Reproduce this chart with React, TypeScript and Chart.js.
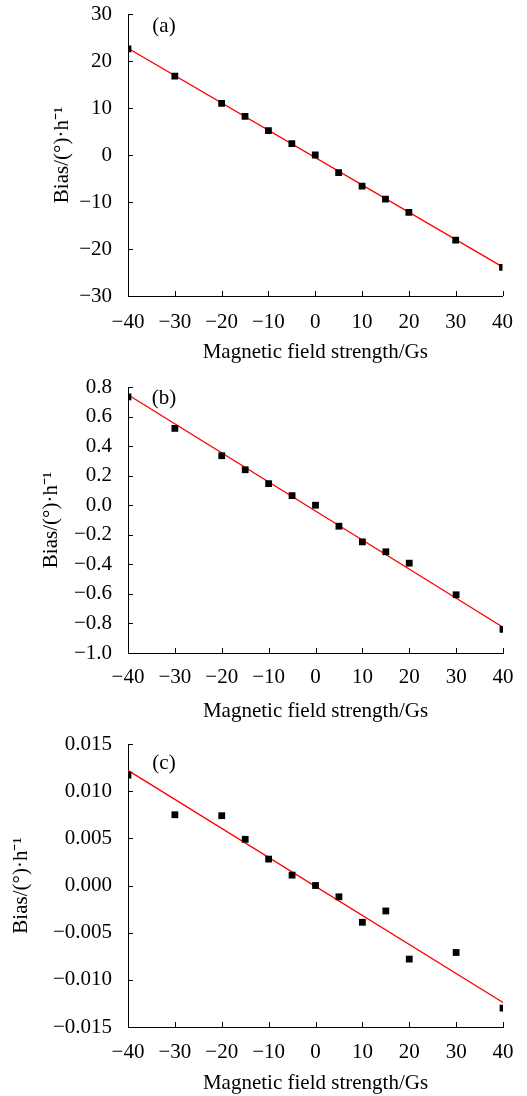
import React, { useEffect, useRef } from "react";
import { Chart, registerables } from "chart.js";

Chart.register(...registerables);

const fieldX = [-40, -30, -20, -15, -10, -5, 0, 5, 10, 15, 20, 30, 40];
const biasA = [22.6, 16.8, 11.0, 8.2, 5.2, 2.4, 0, -3.75, -6.6, -9.4, -12.2, -18.1, -23.9];
const biasB = [0.733, 0.52, 0.335, 0.24, 0.146, 0.065, 0, -0.142, -0.248, -0.315, -0.392, -0.606, -0.84];
const biasC = [0.0117, 0.0075, 0.0074, 0.0049, 0.0028, 0.0011, 0, -0.0012, -0.0039, -0.0027, -0.0078, -0.0071, -0.013];
const fitX = [-40, 40];
const fitA = [22.7, -23.8];
const fitB = [0.747, -0.826];
const fitC = [0.0122, -0.0124];
const xTicks = [-40, -30, -20, -10, 0, 10, 20, 30, 40];
const yTicksA = [-30, -20, -10, 0, 10, 20, 30];
const yTicksB = [-1.0, -0.8, -0.6, -0.4, -0.2, 0.0, 0.2, 0.4, 0.6, 0.8];
const yTicksC = [-0.015, -0.01, -0.005, 0, 0.005, 0.01, 0.015];
const panelLabels = ["(a)", "(b)", "(c)"];
const xTitle = "Magnetic field strength/Gs";
const yTitle = "Bias/(°)·h⁻¹";

const FONT = "'Liberation Serif', 'Times New Roman', serif";
const FS = 21;

const fmt = (v: number, d: number) => {
  const r = Math.abs(v) < 1e-12 ? 0 : v;
  return r.toFixed(d).replace("-", "\u2212");
};

const innerTicks = {
  id: "innerTicks",
  afterDraw(chart: any, _a: any, opts: any) {
    const { ctx, chartArea, scales } = chart;
    ctx.save();
    ctx.strokeStyle = "#000";
    ctx.lineWidth = 1;
    const len = 5;
    scales.x.ticks.forEach((t: any) => {
      const px = Math.round(scales.x.getPixelForValue(t.value)) + 0.5;
      ctx.beginPath();
      ctx.moveTo(px, chartArea.bottom);
      ctx.lineTo(px, chartArea.bottom - len);
      ctx.stroke();
    });
    scales.y.ticks.forEach((t: any) => {
      const py = Math.round(scales.y.getPixelForValue(t.value)) + 0.5;
      ctx.beginPath();
      ctx.moveTo(chartArea.left, py);
      ctx.lineTo(chartArea.left + len, py);
      ctx.stroke();
    });
    ctx.fillStyle = "#000";
    ctx.font = `${FS}px ${FONT}`;
    ctx.textAlign = "center";
    ctx.textBaseline = "middle";
    ctx.fillText(opts.label, chartArea.left + opts.dx, chartArea.top + opts.dy);
    ctx.restore();
  },
};

type Panel = {
  top: number;
  height: number;
  y: number[];
  fit: number[];
  ticks: number[];
  dec: number;
  plotTop: number;
  xHeight: number;
  tickPad: number;
  titlePadBottom: number;
  yTitlePad: number;
  labelDy: number;
  label: string;
};

const panels: Panel[] = [
  { top: 0, height: 365, y: biasA, fit: fitA, ticks: yTicksA, dec: 0, plotTop: 14, xHeight: 69, tickPad: 14, titlePadBottom: 0, yTitlePad: 50, labelDy: 12, label: panelLabels[0] },
  { top: 365, height: 365, y: biasB, fit: fitB, ticks: yTicksB, dec: 1, plotTop: 22, xHeight: 77, tickPad: 12, titlePadBottom: 6, yTitlePad: 39, labelDy: 11.5, label: panelLabels[1] },
  { top: 730, height: 366, y: biasC, fit: fitC, ticks: yTicksC, dec: 3, plotTop: 14, xHeight: 69, tickPad: 12.5, titlePadBottom: 0, yTitlePad: 9, labelDy: 19, label: panelLabels[2] },
];

function PanelChart({ p }: { p: Panel }) {
  const ref = useRef<HTMLCanvasElement>(null);
  useEffect(() => {
    if (!ref.current) return;
    const font = { family: FONT, size: FS };
    const chart = new Chart(ref.current, {
      type: "scatter",
      data: {
        datasets: [
          {
            type: "scatter",
            data: fieldX.map((x, i) => ({ x, y: p.y[i] })),
            pointStyle: "rect",
            pointRadius: 4.8,
            backgroundColor: "#000",
            borderColor: "#000",
            borderWidth: 0,
            order: 0,
          },
          {
            type: "line",
            data: fitX.map((x, i) => ({ x, y: p.fit[i] })),
            borderColor: "#ff0000",
            borderWidth: 1.3,
            pointRadius: 0,
            fill: false,
            order: 1,
          } as any,
        ],
      },
      options: {
        responsive: false,
        animation: false,
        layout: { padding: { top: 0, right: 24, left: 0, bottom: 0 } },
        plugins: {
          legend: { display: false },
          tooltip: { enabled: false },
          innerTicks: { label: p.label, dx: 36, dy: p.labelDy },
        } as any,
        scales: {
          x: {
            type: "linear",
            min: -40,
            max: 40,
            afterBuildTicks: (s: any) => {
              s.ticks = xTicks.map((v) => ({ value: v }));
            },
            afterFit: (s: any) => {
              s.height = p.xHeight;
            },
            grid: { display: false, drawTicks: false },
            border: { display: true, color: "#000", width: 1 },
            ticks: {
              font,
              color: "#000",
              padding: p.tickPad,
              maxRotation: 0,
              callback: (v: any) => fmt(Number(v), 0),
            },
            title: {
              display: true,
              text: xTitle,
              font,
              color: "#000",
              padding: { top: 0, bottom: p.titlePadBottom },
            },
          },
          y: {
            type: "linear",
            min: p.ticks[0],
            max: p.ticks[p.ticks.length - 1],
            afterBuildTicks: (s: any) => {
              s.ticks = p.ticks.map((v) => ({ value: v }));
            },
            afterFit: (s: any) => {
              s.width = 128;
              s.paddingTop = p.plotTop;
            },
            grid: { display: false, drawTicks: false },
            border: { display: true, color: "#000", width: 1 },
            ticks: {
              font,
              color: "#000",
              padding: 16,
              callback: (v: any) => fmt(Number(v), p.dec),
            },
            title: {
              display: true,
              text: yTitle,
              font,
              color: "#000",
              padding: { top: p.yTitlePad, bottom: 0 },
            },
          },
        },
      },
      plugins: [innerTicks],
    } as any);
    return () => chart.destroy();
  }, [p]);
  return (
    <canvas
      ref={ref}
      width={527}
      height={p.height}
      style={{ position: "absolute", left: 0, top: p.top, width: 527, height: p.height, display: "block" }}
    />
  );
}

export default function App() {
  return (
    <div style={{ position: "absolute", left: 0, top: 0, width: 527, height: 1096, background: "#fff" }}>
      {panels.map((p, i) => (
        <PanelChart key={i} p={p} />
      ))}
    </div>
  );
}
